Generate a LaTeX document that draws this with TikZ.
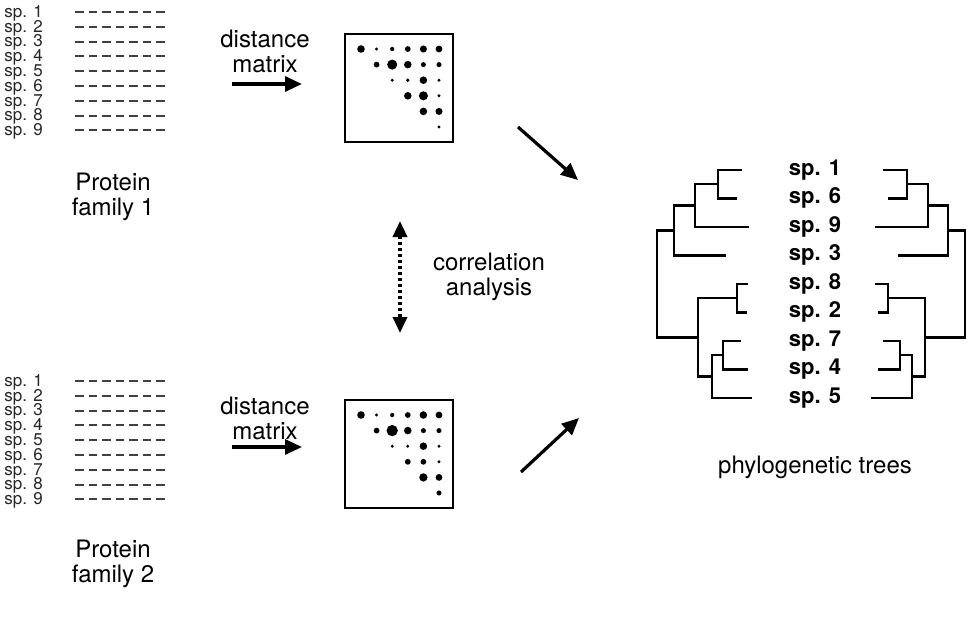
\documentclass[tikz,border=0pt]{standalone}
\usepackage{fontspec}
\setmainfont{TeX Gyre Heros}
\usetikzlibrary{positioning,arrows.meta,calc}

\begin{document}
\begin{tikzpicture}[x=0.5pt, y=-0.5pt,
  lbl/.style={align=center, inner sep=0pt, font=\fontsize{12}{12.5}\selectfont},
  spname/.style={anchor=mid west, inner sep=0pt, text=black!85, font=\fontsize{8.5}{8.5}\selectfont},
  seqrow/.style={black!75, line width=1pt, dash pattern=on 4.4pt off 2.35pt},
  mbox/.style={draw, line width=1pt, minimum size=54pt, inner sep=0pt},
  leaf/.style={anchor=mid, inner sep=0pt, font=\fontsize{11}{11}\selectfont\bfseries},
  branch/.style={line width=1.2pt},
  arr/.style={-{Triangle[length=8.5pt,width=7.5pt]}, line width=1.6pt},
  dotarr/.style={{Triangle[length=8pt,width=7pt]}-{Triangle[length=8pt,width=7pt]}, line width=1.7pt, dash pattern=on 1.6pt off 1.4pt},
]
\useasboundingbox (0,0) rectangle (971,617);

% the two sequence alignments
\foreach \i in {1,...,9}{
  \pgfmathsetmacro\ya{12+14.8*(\i-1)}
  \pgfmathsetmacro\yb{381+14.8*(\i-1)}
  \node[spname] (spA\i) at (4,\ya) {sp. \i};
  \draw[seqrow] (75,\ya) -- (165,\ya);
  \node[spname] (spB\i) at (4,\yb) {sp. \i};
  \draw[seqrow] (75,\yb) -- (165,\yb);
}
\node[lbl] (famA) at (113,197) {Protein\\family 1};
\node[lbl] (famB) at (113,564) {Protein\\family 2};

% distance matrices
\node[lbl] (distA) at (265,51) {distance\\matrix};
\node[lbl] (distB) at (265,418) {distance\\matrix};
\coordinate (inA) at (232,84);  \coordinate (outA) at (302,84);
\coordinate (inB) at (232,447); \coordinate (outB) at (302,447);
\draw[arr] (inA) -- (outA);
\draw[arr] (inB) -- (outB);

\node[mbox] (matA) at (399,88) {};
\node[mbox] (matB) at (399,454) {};
\foreach \r/\c/\s in {1/1/3.0,1/2/1.3,1/3/1.7,1/4/2.3,1/5/2.8,1/6/2.7,
    2/2/2.3,2/3/4.0,2/4/3.0,2/5/2.0,2/6/2.0,
    3/3/1.3,3/4/1.5,3/5/3.0,3/6/1.3,
    4/4/3.0,4/5/3.6,4/6/1.3,
    5/5/3.0,5/6/2.8,
    6/6/1.3}
  \fill ($(matA.north west)+({17+15.6*(\c-1)},{16+15.6*(\r-1)})$) circle[radius={\s*0.63pt}];
\foreach \r/\c/\s in {1/1/3.0,1/2/1.3,1/3/1.7,1/4/2.3,1/5/3.0,1/6/2.7,
    2/2/2.3,2/3/4.5,2/4/3.0,2/5/2.0,2/6/2.0,
    3/3/1.3,3/4/1.3,3/5/3.0,3/6/1.3,
    4/4/2.3,4/5/2.3,4/6/1.3,
    5/5/3.3,5/6/2.7,
    6/6/2.0}
  \fill ($(matB.north west)+({17+15.6*(\c-1)},{16+15.6*(\r-1)})$) circle[radius={\s*0.63pt}];

% correlation between the matrices
\coordinate (corTop) at (400,221); \coordinate (corBot) at (400,333);
\draw[dotarr] (corTop) -- (corBot);
\node[lbl] (corr) at (489,277) {correlation\\analysis};

% towards the trees
\coordinate (dgA0) at (518,127); \coordinate (dgA1) at (578,180);
\coordinate (dgB0) at (521,472); \coordinate (dgB1) at (579,418);
\draw[arr] (dgA0) -- (dgA1);
\draw[arr] (dgB0) -- (dgB1);

% phylogenetic trees
\foreach \s [count=\k] in {1,6,9,3,8,2,7,4,5}
  \node[leaf] (tr\s) at (815,{170+28.5*(\k-1)}) {sp. \s};
\node[lbl] (phylo) at (815,467) {phylogenetic trees};

\draw[branch] (742,170) -| (718,198.5) -- (737,198.5);
\draw[branch] (718,184.25) -| (695,227) -- (749,227);
\draw[branch] (695,205.6) -| (674,255.5) -- (726,255.5);
\draw[branch] (748,284) -| (737,312.5) -- (747,312.5);
\draw[branch] (741,341) -| (723,369.5) -- (748,369.5);
\draw[branch] (723,355.25) -| (712,398) -- (752,398);
\draw[branch] (737,298.25) -| (698,376.6) -- (712,376.6);
\draw[branch] (674,230.5) -| (657,337.4) -- (698,337.4);

\draw[branch] (883,170) -| (907,198.5) -- (888,198.5);
\draw[branch] (907,184.25) -| (928,227) -- (875,227);
\draw[branch] (928,205.6) -| (948,255.5) -- (898,255.5);
\draw[branch] (875,284) -| (888,312.5) -- (878,312.5);
\draw[branch] (883,341) -| (900,369.5) -- (878,369.5);
\draw[branch] (900,355.25) -| (912,398) -- (871,398);
\draw[branch] (888,298.25) -| (925,376.6) -- (912,376.6);
\draw[branch] (948,230.5) -| (965,337.4) -- (925,337.4);
\end{tikzpicture}
\end{document}
